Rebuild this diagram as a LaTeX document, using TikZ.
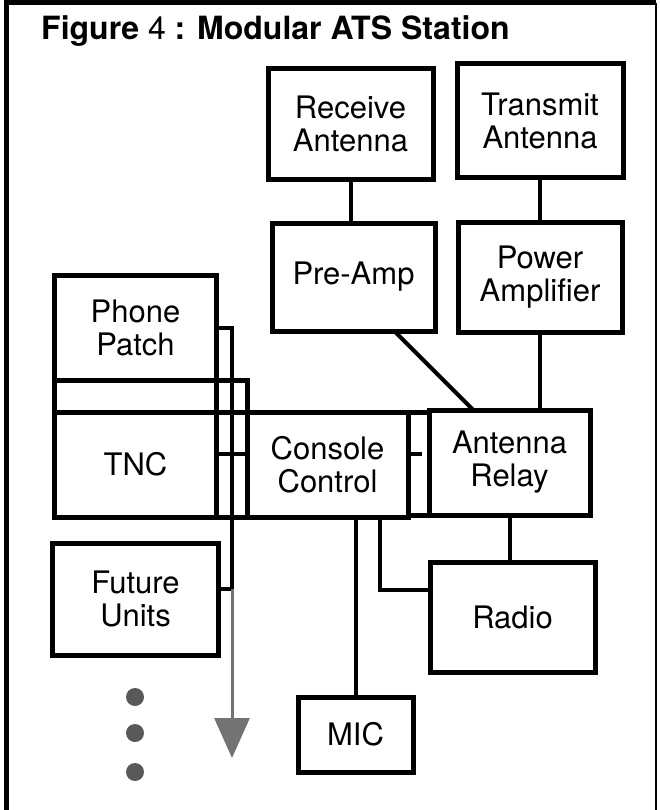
\documentclass[tikz,border=0pt]{standalone}
\usepackage{fontspec}
\setmainfont{TeX Gyre Heros}
\usetikzlibrary{arrows.meta,calc}

\begin{document}
\begin{tikzpicture}[x=1bp,y=-1bp,
  unit/.style={draw, line width=5bp, inner sep=0pt, outer sep=0pt, align=center,
    font=\fontsize{31bp}{33bp}\selectfont},
  rack/.style={line width=5bp},
  wire/.style={line width=4bp},
  feed/.style={draw=black!55, line width=3bp, -{Triangle[length=40bp,width=35bp]}}]
\useasboundingbox (0,0) rectangle (660,810);
% frame and title
\draw[line width=5bp] (6,810) -- (6,3) -- (656,3);
\draw[line width=2bp] (656,3) -- (656,810);
\node[anchor=base west, inner sep=0pt, font=\fontsize{32bp}{34bp}\selectfont] (title) at (41,40)
  {\textbf{Figure} 4 \textbf{: Modular ATS Station}};
% units
\node[unit, minimum width=165bp, minimum height=110bp] (rx) at (350.5,124) {Receive\\Antenna};
\node[unit, minimum width=166bp, minimum height=113bp] (tx) at (540,120.5) {Transmit\\Antenna};
\node[unit, minimum width=163bp, minimum height=108bp] (preamp) at (353.5,277) {Pre-Amp};
\node[unit, minimum width=164bp, minimum height=110bp] (pwr) at (540,277) {Power\\Amplifier};
\node[unit, minimum width=161bp, minimum height=105bp] (phone) at (135.5,327.5) {Phone\\Patch};
\node[unit, minimum width=161bp, minimum height=105bp] (tnc) at (135.5,464.5) {TNC};
\node[unit, minimum width=161bp, minimum height=105bp] (console) at (327.5,464.5) {Console\\Control};
\node[unit, minimum width=161bp, minimum height=105bp] (relay) at (509.5,462.5) {Antenna\\Relay};
\node[unit, minimum width=165bp, minimum height=112bp] (future) at (135.5,599) {Future\\Units};
\node[unit, minimum width=165bp, minimum height=110bp] (radio) at (512.5,617) {Radio};
\node[unit, minimum width=115bp, minimum height=75bp] (mic) at (355.5,734.5) {MIC};
% rack housing
\draw[rack] (phone.south west) rectangle (console.south west);
\draw[rack] (phone.south east) -- (tnc.north east);
\draw[rack] (tnc.north east) -- (console.north west);
\draw[rack] (console.north east) rectangle (relay.south west);
% connections
\draw[wire] (rx.south) -- (rx.south |- preamp.north);
\draw[wire] (tx.south) -- (tx.south |- pwr.north);
\draw[wire] ($(preamp.south)!.5!(preamp.south east)$) -- ($(relay.north west)!.55!(relay.north)$);
\draw[wire] (pwr.south) -- (pwr.south |- relay.north);
\draw[wire] (mic.north) -- (mic.north |- console.south);
\draw[wire] ([xshift=-28bp]console.south east) |- ($(radio.north west)!.25!(radio.south west)$);
\draw[wire] (relay.south) -- (relay.south |- radio.north);
% bus
\coordinate (busend) at (232,589);
\coordinate (busarrow) at (232,758);
\draw[wire] (phone.east) -| (busend);
\draw[wire] ([yshift=11bp]tnc.east) -- ([yshift=11bp]console.west);
\draw[wire] ([yshift=11bp]console.east) -- ++(14,0);
\draw[wire] ([yshift=10bp]future.east) -- (future.east |- busend) -- (busend);
\draw[feed] (busend) -- (busarrow);
\foreach \y in {697,733,772}
  \fill[black!65] (135,\y) circle[radius=9bp];
\end{tikzpicture}
\end{document}
